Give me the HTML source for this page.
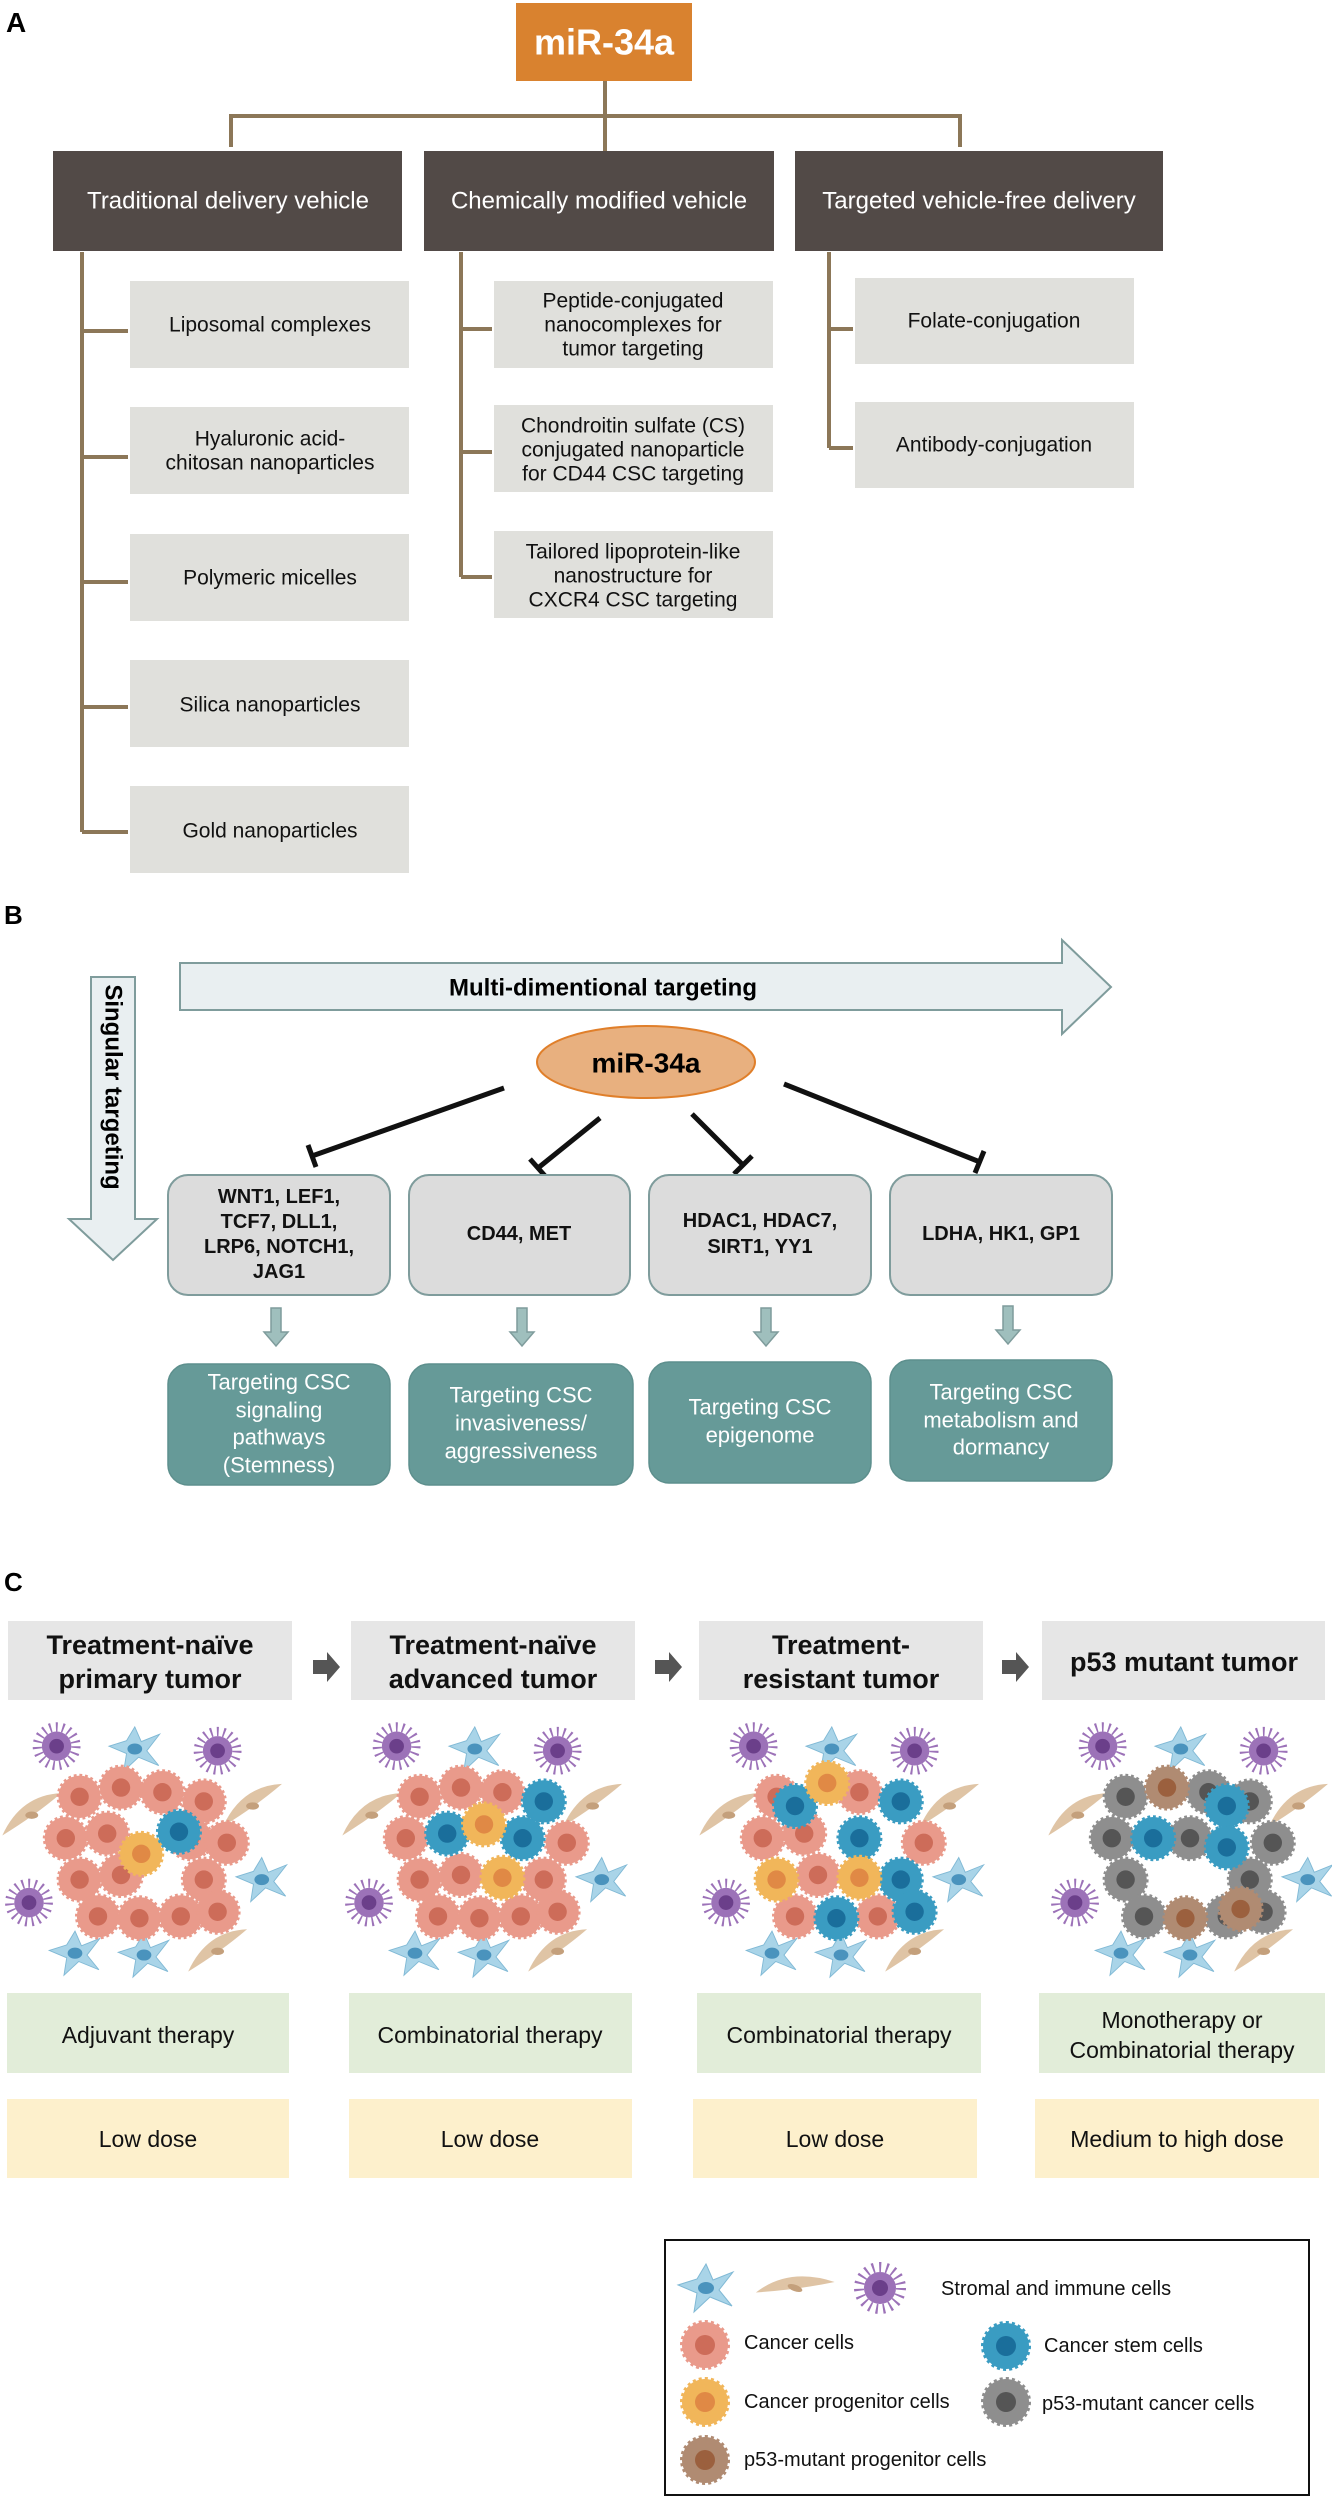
<!DOCTYPE html>
<html><head><meta charset="utf-8"><style>
html,body{margin:0;padding:0;background:#fff;}
svg{display:block;font-family:"Liberation Sans",Arial,sans-serif;}
</style></head><body>
<svg width="1332" height="2500" viewBox="0 0 1332 2500" xmlns="http://www.w3.org/2000/svg">
<defs>
<g id="cc"><circle r="23" fill="#e99a8b" stroke="#e99a8b" stroke-width="4" stroke-dasharray="3 3"/><circle r="10" fill="#cd6c59"/></g>
<g id="cs"><circle r="23" fill="#3a9cc2" stroke="#3a9cc2" stroke-width="4" stroke-dasharray="3 3"/><circle r="10" fill="#1a6e9b"/></g>
<g id="cp"><circle r="23" fill="#f1b65a" stroke="#f1b65a" stroke-width="4" stroke-dasharray="3 3"/><circle r="10" fill="#e08945"/></g>
<g id="cg"><circle r="23" fill="#8e8e8e" stroke="#8e8e8e" stroke-width="4" stroke-dasharray="3 3"/><circle r="10" fill="#555"/></g>
<g id="cb"><circle r="23" fill="#b08b72" stroke="#b08b72" stroke-width="4" stroke-dasharray="3 3"/><circle r="10" fill="#9b603e"/></g>
<g id="sb"><polygon points="0,-24 7,-8 27,-16 13,2 26,18 4,9 -12,24 -9,5 -28,-3 -9,-9" fill="#a9d4e8" stroke="#80b9d5" stroke-width="1"/><ellipse cx="0" cy="0" rx="8" ry="6" fill="#4a93bd"/></g>
<g id="st"><path d="M-32,22 Q-12,-22 32,-24 Q4,0 -32,22Z" fill="#dfc4a5"/><ellipse cx="0" cy="0" rx="7" ry="4" fill="#c4a07c"/></g>
<g id="sp"><circle r="21" fill="none" stroke="#9c72b8" stroke-width="10" stroke-dasharray="2 5"/><circle r="16" fill="#9c72b8"/><circle r="8" fill="#6b3f8a"/></g>
<g id="stroma">
<use href="#sp" x="-95" y="-115"/><use href="#sp" x="80" y="-110"/><use href="#sp" x="-125" y="55"/>
<use href="#sb" x="-10" y="-112"/><use href="#sb" x="128" y="30"/><use href="#sb" x="-75" y="110"/><use href="#sb" x="0" y="112"/>
<use href="#st" x="-122" y="-40"/><use href="#st" x="118" y="-50"/><use href="#st" x="80" y="108"/>
</g>
</defs>

<!-- Panel A -->
<text x="6" y="32" font-size="28" font-weight="bold">A</text>
<rect x="516" y="3" width="176" height="78" fill="#d9822f"/>
<text x="604" y="42" font-size="36" font-weight="bold" fill="#fff" text-anchor="middle" dominant-baseline="central">miR-34a</text>
<g stroke="#8c7758" stroke-width="4" fill="none">
<path d="M605,81 V151"/><path d="M231,147 V116 H960 V147"/>
<path d="M82,252 V832 M82,331 H128 M82,457 H128 M82,582 H128 M82,707 H128 M82,832 H128"/>
<path d="M461,252 V577 M461,329 H492 M461,452 H492 M461,577 H492"/>
<path d="M829,252 V448 M829,329 H853 M829,448 H853"/>
</g>
<rect x="53" y="151" width="349" height="100" fill="#524a47"/>
<rect x="424" y="151" width="350" height="100" fill="#524a47"/>
<rect x="795" y="151" width="368" height="100" fill="#524a47"/>
<g font-size="24" fill="#fff" text-anchor="middle" dominant-baseline="central">
<text x="228" y="201">Traditional delivery vehicle</text>
<text x="599" y="201">Chemically modified vehicle</text>
<text x="979" y="201">Targeted vehicle-free delivery</text>
</g>
<g fill="#e0e0dc">
<rect x="130" y="281" width="279" height="87"/><rect x="130" y="407" width="279" height="87"/>
<rect x="130" y="534" width="279" height="87"/><rect x="130" y="660" width="279" height="87"/>
<rect x="130" y="786" width="279" height="87"/>
<rect x="494" y="281" width="279" height="87"/><rect x="494" y="405" width="279" height="87"/><rect x="494" y="531" width="279" height="87"/>
<rect x="855" y="278" width="279" height="86"/><rect x="855" y="402" width="279" height="86"/>
</g>
<g font-size="21" fill="#111" text-anchor="middle" dominant-baseline="central">
<text x="270" y="325">Liposomal complexes</text>
<text x="270" y="439">Hyaluronic acid-</text><text x="270" y="463">chitosan nanoparticles</text>
<text x="270" y="578">Polymeric micelles</text>
<text x="270" y="705">Silica nanoparticles</text>
<text x="270" y="831">Gold nanoparticles</text>
<text x="633" y="301">Peptide-conjugated</text><text x="633" y="325">nanocomplexes for</text><text x="633" y="349">tumor targeting</text>
<text x="633" y="426">Chondroitin sulfate (CS)</text><text x="633" y="450">conjugated nanoparticle</text><text x="633" y="474">for CD44 CSC targeting</text>
<text x="633" y="552">Tailored lipoprotein-like</text><text x="633" y="576">nanostructure for</text><text x="633" y="600">CXCR4 CSC targeting</text>
<text x="994" y="321">Folate-conjugation</text>
<text x="994" y="445">Antibody-conjugation</text>
</g>

<!-- Panel B -->
<text x="4" y="924" font-size="26" font-weight="bold">B</text>
<polygon points="180,963 1062,963 1062,940 1111,987 1062,1034 1062,1010 180,1010" fill="#e9eff1" stroke="#7f9c9c" stroke-width="2"/>
<text x="603" y="988" font-size="24" font-weight="bold" text-anchor="middle" dominant-baseline="central">Multi-dimentional targeting</text>
<polygon points="91,977 135,977 135,1219 157,1219 113,1260 69,1219 91,1219" fill="#e9eff1" stroke="#7f9c9c" stroke-width="2"/>
<text transform="translate(113,1087) rotate(90)" font-size="24" font-weight="bold" text-anchor="middle" dominant-baseline="central">Singular targeting</text>
<ellipse cx="646" cy="1062" rx="109" ry="36" fill="#e8b07f" stroke="#e07f2a" stroke-width="2"/>
<text x="646" y="1063" font-size="28" font-weight="bold" text-anchor="middle" dominant-baseline="central">miR-34a</text>
<g stroke="#111" stroke-width="5" fill="none">
<path d="M504,1088 L312,1156 M308,1145 L316,1167"/>
<path d="M600,1118 L538,1168 M530,1159 L546,1177"/>
<path d="M692,1114 L743,1165 M734,1174 L752,1156"/>
<path d="M784,1084 L980,1162 M975,1173 L984,1151"/>
</g>
<g fill="#dcdcdc" stroke="#7f9c9c" stroke-width="2">
<rect x="168" y="1175" width="222" height="120" rx="20"/><rect x="409" y="1175" width="221" height="120" rx="20"/>
<rect x="649" y="1175" width="222" height="120" rx="20"/><rect x="890" y="1175" width="222" height="120" rx="20"/>
</g>
<g font-size="20" font-weight="bold" fill="#111" text-anchor="middle" dominant-baseline="central">
<text x="279" y="1197">WNT1, LEF1,</text><text x="279" y="1222">TCF7, DLL1,</text><text x="279" y="1247">LRP6, NOTCH1,</text><text x="279" y="1272">JAG1</text>
<text x="519" y="1234">CD44, MET</text>
<text x="760" y="1221">HDAC1, HDAC7,</text><text x="760" y="1247">SIRT1, YY1</text>
<text x="1001" y="1234">LDHA, HK1, GP1</text>
</g>
<g fill="#9fbfbd" stroke="#7f9c9c" stroke-width="1.5">
<polygon points="271,1308 281,1308 281,1332 288,1332 276,1346 264,1332 271,1332"/>
<polygon points="517,1308 527,1308 527,1332 534,1332 522,1346 510,1332 517,1332"/>
<polygon points="761,1308 771,1308 771,1332 778,1332 766,1346 754,1332 761,1332"/>
<polygon points="1003,1306 1013,1306 1013,1330 1020,1330 1008,1344 996,1330 1003,1330"/>
</g>
<g fill="#669a98" stroke="#5d8f8d" stroke-width="1.5">
<rect x="168" y="1364" width="222" height="121" rx="20"/><rect x="409" y="1364" width="224" height="121" rx="20"/>
<rect x="649" y="1362" width="222" height="121" rx="20"/><rect x="890" y="1360" width="222" height="121" rx="20"/>
</g>
<g font-size="22" fill="#fff" text-anchor="middle" dominant-baseline="central">
<text x="279" y="1382">Targeting CSC</text><text x="279" y="1410">signaling</text><text x="279" y="1437">pathways</text><text x="279" y="1465">(Stemness)</text>
<text x="521" y="1395">Targeting CSC</text><text x="521" y="1423">invasiveness/</text><text x="521" y="1451">aggressiveness</text>
<text x="760" y="1407">Targeting CSC</text><text x="760" y="1435">epigenome</text>
<text x="1001" y="1392">Targeting CSC</text><text x="1001" y="1420">metabolism and</text><text x="1001" y="1447">dormancy</text>
</g>

<!-- Panel C -->
<text x="4" y="1591" font-size="26" font-weight="bold">C</text>
<g fill="#e6e6e6">
<rect x="8" y="1621" width="284" height="79"/><rect x="351" y="1621" width="284" height="79"/>
<rect x="699" y="1621" width="284" height="79"/><rect x="1042" y="1621" width="283" height="79"/>
</g>
<g font-size="27" font-weight="bold" fill="#111" text-anchor="middle" dominant-baseline="central">
<text x="150" y="1645">Treatment-naïve</text><text x="150" y="1679">primary tumor</text>
<text x="493" y="1645">Treatment-naïve</text><text x="493" y="1679">advanced tumor</text>
<text x="841" y="1645">Treatment-</text><text x="841" y="1679">resistant tumor</text>
<text x="1184" y="1662">p53 mutant tumor</text>
</g>
<g fill="#555">
<polygon points="313,1660 327,1660 327,1652 340,1667 327,1682 327,1674 313,1674"/>
<polygon points="655,1660 669,1660 669,1652 682,1667 669,1682 669,1674 655,1674"/>
<polygon points="1002,1660 1016,1660 1016,1652 1029,1667 1016,1682 1016,1674 1002,1674"/>
</g>

<!-- tumors -->
<g transform="translate(144,1852) scale(0.92)">
<use href="#stroma"/>
<use href="#cc" x="-70" y="-60"/><use href="#cc" x="-25" y="-70"/><use href="#cc" x="20" y="-65"/><use href="#cc" x="65" y="-55"/>
<use href="#cc" x="-85" y="-15"/><use href="#cc" x="-40" y="-20"/><use href="#cc" x="50" y="-15"/><use href="#cc" x="90" y="-10"/>
<use href="#cc" x="-70" y="30"/><use href="#cc" x="-25" y="25"/><use href="#cc" x="65" y="30"/>
<use href="#cc" x="-50" y="70"/><use href="#cc" x="-5" y="72"/><use href="#cc" x="40" y="70"/><use href="#cc" x="80" y="65"/>
<use href="#cp" x="-3" y="2"/><use href="#cs" x="38" y="-22"/>
</g>
<g transform="translate(484,1852) scale(0.92)">
<use href="#stroma"/>
<use href="#cc" x="-70" y="-60"/><use href="#cc" x="-25" y="-70"/><use href="#cc" x="20" y="-65"/>
<use href="#cc" x="-85" y="-15"/><use href="#cc" x="90" y="-10"/>
<use href="#cc" x="-70" y="30"/><use href="#cc" x="-25" y="25"/><use href="#cc" x="65" y="30"/>
<use href="#cc" x="-50" y="70"/><use href="#cc" x="-5" y="72"/><use href="#cc" x="40" y="70"/><use href="#cc" x="80" y="65"/>
<use href="#cs" x="65" y="-55"/><use href="#cs" x="-40" y="-20"/><use href="#cs" x="42" y="-15"/>
<use href="#cp" x="0" y="-30"/><use href="#cp" x="20" y="28"/>
</g>
<g transform="translate(841,1852) scale(0.92)">
<use href="#stroma"/>
<use href="#cc" x="-70" y="-60"/><use href="#cc" x="20" y="-65"/>
<use href="#cc" x="-85" y="-15"/><use href="#cc" x="-40" y="-20"/><use href="#cc" x="90" y="-10"/>
<use href="#cc" x="-25" y="25"/><use href="#cc" x="-50" y="70"/><use href="#cc" x="40" y="70"/>
<use href="#cs" x="-50" y="-50"/><use href="#cs" x="65" y="-55"/><use href="#cs" x="20" y="-15"/><use href="#cs" x="65" y="30"/>
<use href="#cs" x="-5" y="72"/><use href="#cs" x="80" y="65"/>
<use href="#cp" x="-15" y="-75"/><use href="#cp" x="-70" y="30"/><use href="#cp" x="20" y="28"/>
</g>
<g transform="translate(1190,1852) scale(0.92)">
<use href="#stroma"/>
<use href="#cg" x="-70" y="-60"/><use href="#cg" x="20" y="-65"/><use href="#cg" x="65" y="-55"/>
<use href="#cg" x="-85" y="-15"/><use href="#cg" x="90" y="-10"/><use href="#cg" x="0" y="-15"/>
<use href="#cg" x="-70" y="30"/><use href="#cg" x="65" y="30"/>
<use href="#cg" x="-50" y="70"/><use href="#cg" x="40" y="70"/><use href="#cg" x="80" y="65"/>
<use href="#cb" x="-25" y="-70"/><use href="#cb" x="-5" y="72"/><use href="#cb" x="55" y="62"/>
<use href="#cs" x="40" y="-50"/><use href="#cs" x="-40" y="-15"/><use href="#cs" x="40" y="-5"/>
</g>

<g fill="#e2edd9">
<rect x="7" y="1993" width="282" height="80"/><rect x="349" y="1993" width="283" height="80"/>
<rect x="697" y="1993" width="284" height="80"/><rect x="1039" y="1993" width="286" height="80"/>
</g>
<g fill="#fdf0cc">
<rect x="7" y="2099" width="282" height="79"/><rect x="349" y="2099" width="283" height="79"/>
<rect x="693" y="2099" width="284" height="79"/><rect x="1035" y="2099" width="284" height="79"/>
</g>
<g font-size="23" fill="#111" text-anchor="middle" dominant-baseline="central">
<text x="148" y="2035">Adjuvant therapy</text>
<text x="490" y="2035">Combinatorial therapy</text>
<text x="839" y="2035">Combinatorial therapy</text>
<text x="1182" y="2020">Monotherapy or</text><text x="1182" y="2050">Combinatorial therapy</text>
<text x="148" y="2139">Low dose</text>
<text x="490" y="2139">Low dose</text>
<text x="835" y="2139">Low dose</text>
<text x="1177" y="2139">Medium to high dose</text>
</g>

<!-- Legend -->
<rect x="665" y="2240" width="644" height="255" fill="none" stroke="#111" stroke-width="2"/>
<use href="#sb" x="706" y="2288"/>
<g transform="translate(795,2288) rotate(20) scale(1.1,0.8)"><use href="#st"/></g>
<use href="#sp" x="880" y="2288"/>
<use href="#cc" x="705" y="2345"/>
<use href="#cs" x="1006" y="2346"/>
<use href="#cp" x="705" y="2402"/>
<use href="#cg" x="1006" y="2402"/>
<use href="#cb" x="705" y="2460"/>
<g font-size="20" fill="#111" dominant-baseline="central">
<text x="941" y="2289">Stromal and immune cells</text>
<text x="744" y="2343">Cancer cells</text>
<text x="1044" y="2346">Cancer stem cells</text>
<text x="744" y="2402">Cancer progenitor cells</text>
<text x="1042" y="2404">p53-mutant cancer cells</text>
<text x="744" y="2460">p53-mutant progenitor cells</text>
</g>
</svg>
</body></html>
